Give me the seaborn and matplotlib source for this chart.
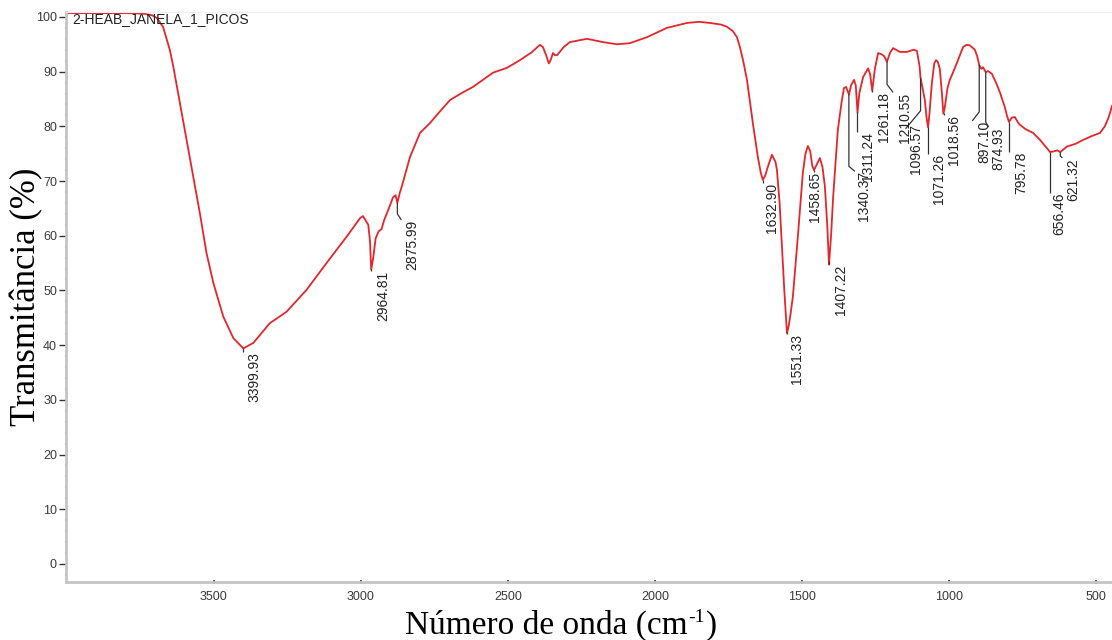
import numpy as np
import pandas as pd
import matplotlib
matplotlib.use("Agg")
import matplotlib.pyplot as plt
from matplotlib.ticker import MultipleLocator, FixedLocator
import seaborn as sns

# ---------------- data ----------------
wavenumber = [4000, 3900, 3800, 3740, 3710, 3694, 3673, 3650, 3638, 3593, 3548, 3525,
              3502, 3468, 3434, 3400, 3366, 3310, 3253, 3185, 3117, 3049, 3003, 2993,
              2975, 2969, 2965, 2958, 2950, 2940, 2930, 2920, 2905, 2891, 2882, 2876,
              2868, 2861, 2833, 2799, 2765, 2730, 2697, 2660, 2619, 2585, 2551, 2503,
              2459, 2420, 2391, 2381, 2370, 2361, 2354, 2347, 2340, 2333, 2310, 2289,
              2231, 2177, 2129, 2085, 2027, 1959, 1891, 1850, 1813, 1775, 1755, 1735,
              1721, 1711, 1700, 1687, 1667, 1650, 1640, 1633, 1625, 1616, 1602, 1590,
              1585, 1576, 1568, 1560, 1551, 1545, 1538, 1531, 1514, 1505, 1497, 1488,
              1480, 1472, 1465, 1459, 1450, 1439, 1430, 1422, 1414, 1408, 1401, 1394,
              1378, 1365, 1357, 1350, 1340, 1333, 1323, 1317, 1311, 1305, 1292, 1275,
              1268, 1261, 1252, 1241, 1230, 1220, 1211, 1200, 1190, 1167, 1143, 1120,
              1109, 1100, 1097, 1090, 1082, 1076, 1071, 1066, 1058, 1050, 1044, 1038,
              1031, 1024, 1019, 1014, 1005, 997, 985, 973, 952, 940, 929, 912,
              904, 897, 890, 884, 875, 867, 854, 840, 826, 810, 803, 796,
              786, 776, 765, 759, 740, 714, 690, 670, 656, 645, 632, 621,
              610, 599, 570, 544, 515, 486, 470, 458, 452, 445]
transmittance = [100.7, 100.7, 100.7, 100.6, 100.3, 99.8, 98.2, 94.0, 90.9, 77.5, 64.2, 56.8,
                 51.4, 45.2, 41.3, 39.4, 40.4, 44.0, 46.1, 50.1, 55.0, 59.8, 63.2, 63.6,
                 62.0, 59.0, 53.8, 56.0, 59.5, 60.8, 61.2, 63.0, 65.0, 67.0, 67.4, 66.0,
                 67.8, 69.0, 74.4, 78.8, 80.6, 82.8, 84.8, 86.0, 87.2, 88.5, 89.8, 90.7,
                 92.1, 93.5, 94.9, 94.5, 93.0, 91.5, 92.2, 93.4, 93.0, 93.0, 94.5, 95.4,
                 96.0, 95.4, 95.0, 95.2, 96.3, 98.0, 98.9, 99.1, 98.9, 98.6, 98.2, 97.4,
                 96.3, 94.5, 92.0, 88.5, 80.6, 74.4, 71.5, 70.2, 71.0, 72.6, 74.8, 73.5,
                 72.0, 66.0, 58.0, 50.0, 42.2, 43.5, 46.0, 48.8, 59.8, 66.0, 71.5, 75.0,
                 76.4, 75.5, 72.8, 72.0, 73.0, 74.2, 72.5, 69.0, 62.0, 54.7, 60.0, 67.0,
                 79.3, 84.5, 87.0, 87.2, 85.8, 87.5, 88.5, 87.5, 82.5, 86.0, 89.0, 90.6,
                 89.5, 86.5, 90.5, 93.4, 93.2, 92.8, 91.8, 93.5, 94.3, 93.6, 93.6, 94.0,
                 93.8, 91.0, 89.0, 87.0, 84.8, 81.5, 79.8, 82.5, 88.0, 91.5, 92.1, 91.8,
                 90.5, 86.0, 82.3, 83.5, 87.0, 88.5, 90.0, 91.6, 94.5, 94.9, 94.8, 94.0,
                 92.8, 91.2, 90.5, 90.8, 89.9, 90.1, 89.6, 88.0, 86.1, 83.5, 82.0, 80.8,
                 81.6, 81.7, 80.7, 80.3, 79.5, 78.8, 77.5, 76.2, 75.3, 75.4, 75.6, 75.3,
                 75.8, 76.3, 76.8, 77.5, 78.2, 78.8, 80.0, 81.5, 82.5, 83.8]

peak_positions = [3399.93, 2964.81, 2875.99, 1632.90, 1551.33, 1458.65, 1407.22,
                  1340.37, 1311.24, 1261.18, 1210.55, 1096.57, 1071.26, 1018.56,
                  897.10, 874.93, 795.78, 656.46, 621.32]
peak_labels = ["3399.93", "2964.81", "2875.99", "1632.90", "1551.33", "1458.65", "1407.22",
               "1340.37", "1311.24", "1261.18", "1210.55", "1096.57", "1071.26", "1018.56",
               "897.10", "874.93", "795.78", "656.46", "621.32"]

x_ticks = [3500, 3000, 2500, 2000, 1500, 1000, 500]
y_ticks = [0, 10, 20, 30, 40, 50, 60, 70, 80, 90, 100]

sample_name = "2-HEAB_JANELA_1_PICOS"
x_title_main = "Número de onda (cm"
x_title_sup = "-1"
x_title_end = ")"
y_title = "Transmitância (%)"

# leader layout in pixels: (vertical drop, kink dx, kink dy, text dx, text dy)
leader_layout = [(4, 0, 0, 4, 0), (2, 0, 0, 5, 0), (11, 4, 6, 4, 0), (3, 0, 0, 2, 0),
                 (2, 0, 0, 3, 0), (2, 0, 0, -6, 0), (3, 0, 0, 5, 0), (72, 6, 5, 2, 0),
                 (20, 0, 0, 4, 0), (2, 0, 0, 5, 0), (23, 6, 8, 5, 0), (33, -15, 18, 3, -5),
                 (27, 0, 0, 4, 0), (2, 0, 0, 3, 0), (47, -7, 9, 5, 0), (50, 3, 5, 3, 0),
                 (30, 0, 0, 5, 0), (41, 0, 0, 2, 0), (4, 2, 2, 4, 0)]

# ---------------- style ----------------
sns.set_theme(style="white")
plt.rcParams["font.family"] = ["Liberation Sans", "DejaVu Sans"]

df = pd.DataFrame({"wn": wavenumber, "T": transmittance})

fig = plt.figure(figsize=(11.12, 6.4), dpi=100)
ax = fig.add_axes([66 / 1112, 58 / 640, 1046 / 1112, 570 / 640])

sns.lineplot(data=df, x="wn", y="T", ax=ax, color="#e3262c", linewidth=1.3,
             sort=False, estimator=None)

ax.set_xlim(4003, 445.5)
ax.set_ylim(-3.3, 100.9)
ax.set_xlabel("")
ax.set_ylabel("")

# spines
ax.spines["right"].set_visible(False)
ax.spines["top"].set_color("#eeeeee")
ax.spines["top"].set_linewidth(0.8)
ax.spines["left"].set_color("#c4c4c4")
ax.spines["left"].set_linewidth(2.0)
ax.spines["bottom"].set_color("#c4c4c4")
ax.spines["bottom"].set_linewidth(2.0)

# ticks
ax.xaxis.set_major_locator(FixedLocator(x_ticks))
ax.yaxis.set_major_locator(FixedLocator(y_ticks))
ax.yaxis.set_minor_locator(MultipleLocator(2))
ax.tick_params(axis="y", which="major", direction="out", length=5, width=1.0,
               color="#333333", labelsize=9, labelcolor="#3a3a3a", pad=1.5, left=True)
ax.tick_params(axis="y", which="minor", direction="inout", length=2, width=1.3,
               color="#555555", left=True)
ax.tick_params(axis="x", which="major", direction="inout", length=3, width=1.3,
               color="#444444", labelsize=9, labelcolor="#3a3a3a", pad=5, bottom=True)
ax.set_yticklabels([str(v) for v in y_ticks])
ax.set_xticklabels([str(v) for v in x_ticks])

# peak labels with leader lines
wn_asc = np.array(wavenumber[::-1], dtype=float)
T_asc = np.array(transmittance[::-1], dtype=float)
inv = ax.transData.inverted()
for pos, lab, (v, kx, ky, tx, tdy) in zip(peak_positions, peak_labels, leader_layout):
    yp = float(np.interp(pos, wn_asc, T_asc))
    X, Y = ax.transData.transform((pos, yp))
    pts = np.array([(X, Y), (X, Y - v), (X + kx, Y - v - ky)])
    d = inv.transform(pts)
    ax.plot(d[:, 0], d[:, 1], color="#333333", linewidth=0.9, solid_capstyle="butt")
    tx_d, ty_d = inv.transform((X + kx + tx, Y - v - ky - tdy))
    ax.text(tx_d, ty_d, lab, rotation=90, ha="left", va="top", fontsize=10,
            color="#222222", family=["Liberation Sans", "DejaVu Sans"])

# sample name
fig.text(72 / 1112, 1 - 12 / 640, sample_name, ha="left", va="top", fontsize=10,
         color="#222222", family=["Liberation Sans", "DejaVu Sans"])

# axis titles
serif = ["Liberation Serif", "DejaVu Serif"]
fig.text(27 / 1112, 1 - 297 / 640, y_title, rotation=90, ha="center", va="center",
         fontsize=25, color="black", family=serif)

# x title built from pieces so the superscript uses a plain hyphen
renderer = fig.canvas.get_renderer()
base_y = 1 - 634 / 640
t_main = fig.text(0, base_y, x_title_main, ha="left", va="baseline", fontsize=24,
                  color="black", family=serif)
t_sup = fig.text(0, base_y, x_title_sup, ha="left", va="baseline", fontsize=14,
                 color="black", family=serif)
t_end = fig.text(0, base_y, x_title_end, ha="left", va="baseline", fontsize=24,
                 color="black", family=serif)
w_main = t_main.get_window_extent(renderer).width
w_sup = t_sup.get_window_extent(renderer).width
w_end = t_end.get_window_extent(renderer).width
total = w_main + w_sup + w_end + 2
x0 = 561 - total / 2
t_main.set_x(x0 / 1112)
t_sup.set_x((x0 + w_main + 1) / 1112)
t_sup.set_y(base_y + 12 / 640)
t_end.set_x((x0 + w_main + w_sup + 2) / 1112)

fig.savefig("out.png", dpi=100)
